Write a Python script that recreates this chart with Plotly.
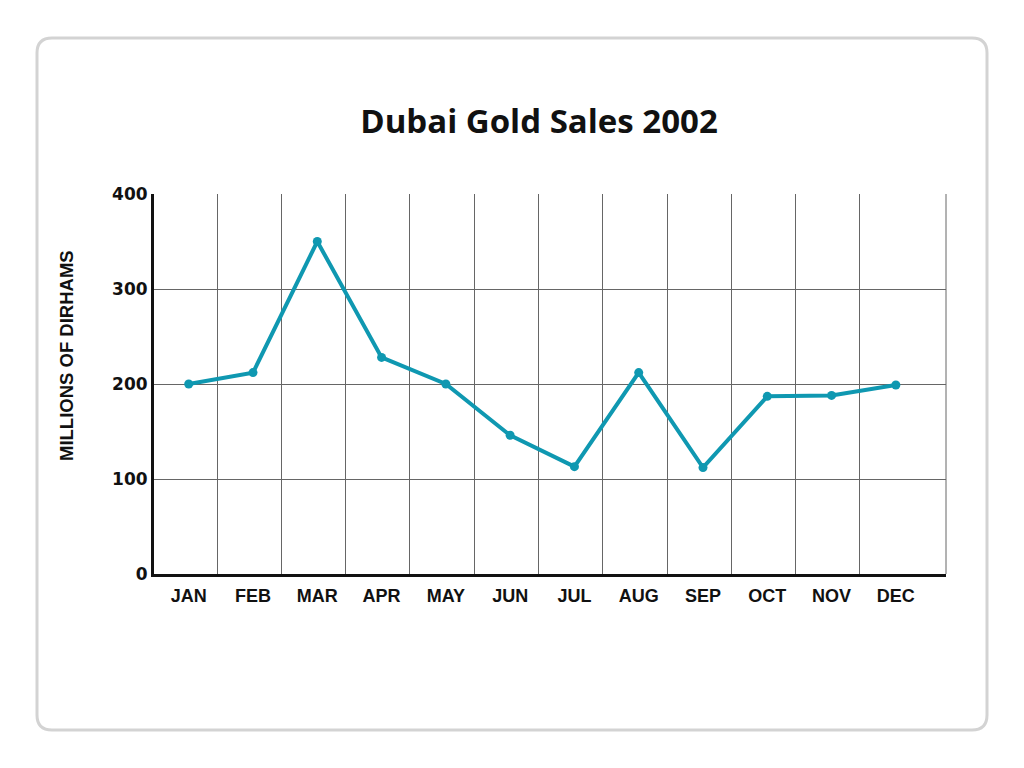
import plotly.graph_objects as go

months = ["JAN", "FEB", "MAR", "APR", "MAY", "JUN", "JUL", "AUG", "SEP", "OCT", "NOV", "DEC"]
sales = [200, 212, 350, 228, 200, 146, 113, 212, 112, 187, 188, 199]
y_ticks = [0, 100, 200, 300, 400]

# page has an 8px body margin, so figure coordinates are screen coordinates minus 8
OFF = 8
W, H = 1024 - OFF, 768 - OFF
L, T = 154 - OFF, 194 - OFF
R = W - (946 - OFF)
B = H - (574 - OFF)
pw, ph = W - L - R, H - T - B

def px(x):
    return (x - OFF - L) / pw

def py(y):
    return (H - B - (y - OFF)) / ph

xs = list(range(len(months)))

fig = go.Figure()
fig.add_trace(go.Scatter(
    x=xs, y=sales, mode="lines+markers",
    line=dict(color="#0f98b1", width=4),
    marker=dict(color="#0f98b1", size=9),
    hoverinfo="skip", showlegend=False,
))

# rounded border box
x0, x1 = px(37), px(987)
y0, y1 = py(730), py(38)
rx, ry = 15 / pw, 15 / ph
path = (f"M {x0+rx},{y1} L {x1-rx},{y1} Q {x1},{y1} {x1},{y1-ry} "
        f"L {x1},{y0+ry} Q {x1},{y0} {x1-rx},{y0} L {x0+rx},{y0} "
        f"Q {x0},{y0} {x0},{y0+ry} L {x0},{y1-ry} Q {x0},{y1} {x0+rx},{y1} Z")

fig.update_layout(
    width=W, height=H,
    margin=dict(l=L, r=R, t=T, b=B),
    paper_bgcolor="white", plot_bgcolor="white",
    title=dict(text="<b>Dubai Gold Sales 2002</b>", x=(539 - OFF) / W, xanchor="center",
               y=1 - (121 - OFF) / H, yanchor="middle",
               font=dict(family="Open Sans", size=33, color="#111")),
    shapes=[
        dict(type="path", path=path, xref="paper", yref="paper",
             line=dict(color="#d3d3d3", width=3), fillcolor="rgba(0,0,0,0)", layer="below"),
        dict(type="line", xref="paper", yref="paper", x0=1, x1=1, y0=0, y1=1,
             line=dict(color="#666", width=1), layer="below"),
    ],
    annotations=[
        dict(text="<b>MILLIONS OF DIRHAMS</b>", textangle=-90, xref="paper", yref="paper",
             x=px(66), y=py(356), xanchor="center", yanchor="middle", showarrow=False,
             font=dict(family="Liberation Sans", size=18.5, color="#111")),
    ],
)

fig.update_xaxes(
    range=[-0.54, 11.78], tickvals=xs, ticktext=[f"<b>{m}</b>" for m in months],
    showgrid=False, zeroline=False, ticks="", ticklabelstandoff=3,
    tickfont=dict(family="Liberation Sans", size=18, color="#111"),
    showline=True, linecolor="#111", linewidth=3,
    minor=dict(tickvals=[i + 0.44 for i in range(11)], showgrid=True,
               gridcolor="#666", gridwidth=1, ticks=""),
)
fig.update_yaxes(
    range=[0, 400], tickvals=y_ticks, ticktext=[f"<b>{v}</b>" for v in y_ticks],
    showgrid=True, gridcolor="#666", gridwidth=1, zeroline=False, ticks="",
    ticklabelstandoff=0,
    tickfont=dict(family="DejaVu Sans", size=17, color="#111"),
    showline=True, linecolor="#111", linewidth=3,
)

fig.write_html("out.html")
